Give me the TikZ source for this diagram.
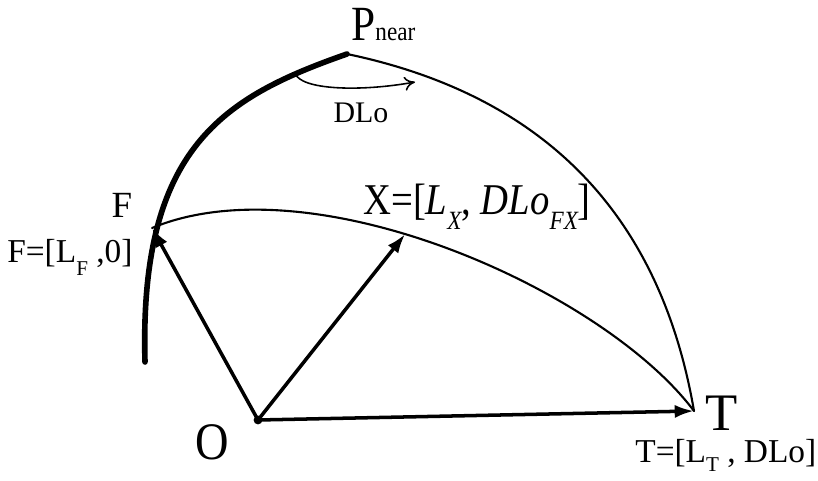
\documentclass[tikz,border=0pt]{standalone}
\usepackage{fontspec}
\setmainfont{Liberation Serif}
\newfontfamily\narrowfont{Liberation Serif}[FakeStretch=0.88]
\usetikzlibrary{arrows.meta}
% lowered subscript as in the drawing
\newcommand{\lowsub}[2][7.5pt]{\raisebox{-#1}{\fontsize{12}{12}\selectfont #2}}

\begin{document}
\begin{tikzpicture}[line cap=round,line join=round,x=0.02cm,y=-0.02cm,
    vec/.style={line width=2pt,-{Latex[length=11pt,width=7.5pt]}},
    arcline/.style={line width=1.2pt},
    bigarc/.style={line width=3.2pt},
    lbl/.style={inner sep=0pt},
    huge/.style={lbl,font=\fontsize{30}{30}\selectfont},
    mid/.style={lbl,font=\fontsize{19}{19}\selectfont},
    small/.style={lbl,font=\fontsize{17}{17}\selectfont}]
  \useasboundingbox (0,0) rectangle (818,480);
  % points
  \coordinate (O) at (258,420);
  \coordinate (T) at (694,411);
  \coordinate (F) at (152,228);
  \coordinate (P) at (347,54);
  \coordinate (B) at (145,362);
  \coordinate (d1) at (295,73);
  \coordinate (d2) at (415,82);
  % arcs
  \draw [bigarc] (B) .. controls (139,147) and (224,97) .. (P);
  \draw [arcline] (P) .. controls (543,95) and (660,213) .. (T);
  \draw [arcline] (F) .. controls (313,161) and (603,290) .. (T) coordinate[pos=0.43] (X);
  % vectors
  \draw [vec] (O) -- (F);
  \draw [vec] (O) -- (X);
  \draw [vec] (O) -- (T);
  \fill (O) circle [radius=2.5pt];
  \draw [line width=0.9pt,-{To[length=6pt,width=8pt]}] (d1) .. controls (300,90) and (360,92) .. (d2);
  % labels
  \node (pnear) [lbl,anchor=base west] at (351,40) {\fontsize{28}{28}\narrowfont P\fontsize{15}{15}\selectfont near};
  \node (dlo) [small,anchor=base] at (361,122) {DLo};
  \node (fname) [lbl,anchor=base,font=\fontsize{21}{21}\selectfont] at (122,217) {F};
  \node (fcoord) [mid,anchor=base west] at (7,262) {F=[L\lowsub{F} ,0]};
  \node (xcoord) [lbl,anchor=base west,font=\fontsize{25}{25}\narrowfont] at (363,214) {X=[\textit{L\lowsub[9pt]{\fontsize{15}{15}\selectfont X}}, \textit{DLo\lowsub[9pt]{\fontsize{15}{15}\selectfont FX}}]};
  \node (tname) [huge,anchor=base west] at (705,430) {T};
  \node (tcoord) [mid,anchor=base west] at (635,462) {T=[L\lowsub[5.5pt]{T} , DLo]};
  \node (oname) [huge,anchor=base] at (212,459) {\narrowfont O};
\end{tikzpicture}
\end{document}
